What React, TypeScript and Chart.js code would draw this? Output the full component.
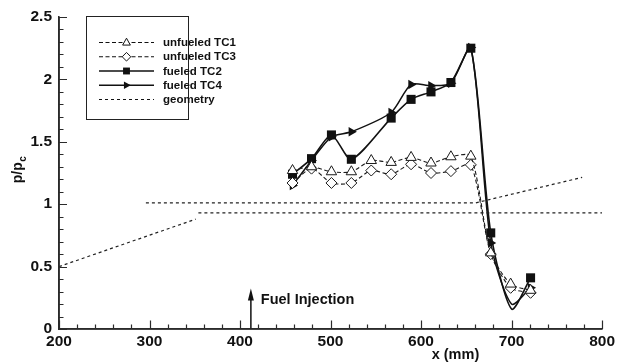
import React, { useEffect, useRef } from 'react';
import { Chart, registerables } from 'chart.js';

Chart.register(...registerables);

// Measuring stations along the combustor (mm)
const stationX = [458, 479, 501, 523, 545, 567, 589, 611, 633, 655, 677, 699, 721];
const unfueledTC1 = [1.27, 1.3, 1.26, 1.26, 1.35, 1.335, 1.375, 1.33, 1.38, 1.385, 0.61, 0.36, 0.31];
const unfueledTC3 = [1.17, 1.285, 1.17, 1.17, 1.27, 1.24, 1.32, 1.25, 1.265, 1.315, 0.6, 0.33, 0.29];

// Fueled runs: no tap at 545; the 700 entry is the trough of the curve (no marker)
const fueledX = [458, 479, 501, 523, 567, 589, 611, 633, 655, 677, 700, 721];
const fueledTC2 = [1.24, 1.365, 1.555, 1.36, 1.69, 1.84, 1.9, 1.975, 2.25, 0.77, 0.16, 0.41];
const fueledTC4 = [1.15, 1.35, 1.54, 1.58, 1.735, 1.96, 1.95, 1.97, 2.255, 0.69, 0.2, 0.33];
const fueledMarker = [1, 1, 1, 1, 1, 1, 1, 1, 1, 1, 0, 1];

// Duct geometry outline
const geomRampX = [200, 351];
const geomRampY = [0.5, 0.88];
const geomLowerX = [354, 800];
const geomLowerY = [0.93, 0.93];
const geomUpperX = [296, 660, 778];
const geomUpperY = [1.01, 1.01, 1.215];

const xTicks = [200, 300, 400, 500, 600, 700, 800];
const yTicks = [0, 0.5, 1, 1.5, 2, 2.5];
const xMinorStep = 20;
const yMinorStep = 0.1;

const injectionX = 412;
const injectionTop = 0.325;
const injectionLabel = 'Fuel Injection';
const injectionLabelX = 423;
const injectionLabelY = 0.23;

const FONT = '"Liberation Sans", Arial, sans-serif';
const INK = '#111';

const pts = (xs: number[], ys: number[]) => xs.map((x, i) => ({ x, y: ys[i] }));

type Marker = 'triangle' | 'diamond' | 'square' | 'arrow' | 'none';

function drawMarker(ctx: CanvasRenderingContext2D, kind: Marker, cx: number, cy: number, s: number) {
  ctx.beginPath();
  if (kind === 'triangle') {
    ctx.moveTo(cx, cy - s);
    ctx.lineTo(cx + s * 0.9, cy + s * 0.6);
    ctx.lineTo(cx - s * 0.9, cy + s * 0.6);
    ctx.closePath();
    ctx.fillStyle = '#fff';
    ctx.fill();
    ctx.stroke();
  } else if (kind === 'diamond') {
    ctx.moveTo(cx, cy - s);
    ctx.lineTo(cx + s, cy);
    ctx.lineTo(cx, cy + s);
    ctx.lineTo(cx - s, cy);
    ctx.closePath();
    ctx.fillStyle = '#fff';
    ctx.fill();
    ctx.stroke();
  } else if (kind === 'square') {
    ctx.fillStyle = INK;
    ctx.fillRect(cx - s * 0.8, cy - s * 0.8, s * 1.6, s * 1.6);
  } else if (kind === 'arrow') {
    ctx.moveTo(cx + s, cy);
    ctx.lineTo(cx - s * 0.6, cy - s * 0.9);
    ctx.lineTo(cx - s * 0.6, cy + s * 0.9);
    ctx.closePath();
    ctx.fillStyle = INK;
    ctx.fill();
  }
}

const legendItems: { label: string; dash: number[]; width: number; marker: Marker }[] = [
  { label: 'unfueled TC1', dash: [4, 2.5], width: 1.1, marker: 'triangle' },
  { label: 'unfueled TC3', dash: [4, 2.5], width: 1.1, marker: 'diamond' },
  { label: 'fueled TC2', dash: [], width: 1.6, marker: 'square' },
  { label: 'fueled TC4', dash: [], width: 1.6, marker: 'arrow' },
  { label: 'geometry', dash: [3, 3], width: 1.1, marker: 'none' },
];

const decorations = {
  id: 'decorations',
  afterDraw(chart: any) {
    const ctx: CanvasRenderingContext2D = chart.ctx;
    const a = chart.chartArea;
    const xs = chart.scales.x;
    const ys = chart.scales.y;
    ctx.save();
    ctx.setLineDash([]);

    // fuel injection arrow and label
    const ax = xs.getPixelForValue(injectionX);
    const aTop = ys.getPixelForValue(injectionTop);
    ctx.strokeStyle = INK;
    ctx.fillStyle = INK;
    ctx.lineWidth = 1.5;
    ctx.beginPath();
    ctx.moveTo(ax, a.bottom);
    ctx.lineTo(ax, aTop + 8);
    ctx.stroke();
    ctx.beginPath();
    ctx.moveTo(ax, aTop);
    ctx.lineTo(ax + 3, aTop + 12);
    ctx.lineTo(ax - 3, aTop + 12);
    ctx.closePath();
    ctx.fill();
    ctx.font = `bold 14.5px ${FONT}`;
    ctx.textAlign = 'left';
    ctx.textBaseline = 'middle';
    ctx.fillText(injectionLabel, xs.getPixelForValue(injectionLabelX), ys.getPixelForValue(injectionLabelY));

    // x axis title
    ctx.textAlign = 'center';
    ctx.fillText('x (mm)', xs.getPixelForValue(638), 355);

    // y axis title p/p_c
    ctx.save();
    ctx.translate(22, 170);
    ctx.rotate(-Math.PI / 2);
    ctx.font = `bold 14px ${FONT}`;
    const main = 'p/p';
    const wMain = ctx.measureText(main).width;
    ctx.font = `bold 10px ${FONT}`;
    const wSub = ctx.measureText('c').width;
    const start = -(wMain + wSub) / 2;
    ctx.textAlign = 'left';
    ctx.textBaseline = 'alphabetic';
    ctx.font = `bold 14px ${FONT}`;
    ctx.fillText(main, start, 0);
    ctx.font = `bold 10px ${FONT}`;
    ctx.fillText('c', start + wMain + 0.5, 3.5);
    ctx.restore();

    // legend box
    const bx = 86, by = 16, bw = 102, bh = 103;
    ctx.fillStyle = '#fff';
    ctx.fillRect(bx, by, bw, bh);
    ctx.strokeStyle = '#222';
    ctx.lineWidth = 1;
    ctx.strokeRect(bx + 0.5, by + 0.5, bw, bh);
    legendItems.forEach((it, i) => {
      const ly = 42.5 + i * 14.25;
      ctx.strokeStyle = INK;
      ctx.lineWidth = it.width;
      ctx.setLineDash(it.dash);
      ctx.beginPath();
      ctx.moveTo(99, ly);
      ctx.lineTo(154, ly);
      ctx.stroke();
      ctx.setLineDash([]);
      ctx.lineWidth = 1;
      drawMarker(ctx, it.marker, 126.5, ly, 4.3);
      ctx.fillStyle = INK;
      ctx.font = `bold 11.5px ${FONT}`;
      ctx.textAlign = 'left';
      ctx.textBaseline = 'middle';
      ctx.fillText(it.label, 163, ly + 0.5);
    });

    // left and bottom axis lines
    ctx.setLineDash([]);
    ctx.strokeStyle = '#2b2b2b';
    ctx.lineWidth = 1.6;
    ctx.beginPath();
    ctx.moveTo(a.left, a.top);
    ctx.lineTo(a.left, a.bottom);
    ctx.lineTo(a.right, a.bottom);
    ctx.stroke();

    // inward major and minor ticks
    ctx.lineWidth = 1.2;
    ctx.beginPath();
    const yMin = yTicks[0];
    const yMax = yTicks[yTicks.length - 1];
    const nY = Math.round((yMax - yMin) / yMinorStep);
    for (let i = 0; i <= nY; i++) {
      const v = yMin + i * yMinorStep;
      const major = yTicks.some((t) => Math.abs(t - v) < 1e-6);
      const py = Math.round(ys.getPixelForValue(v)) + 0.5;
      ctx.moveTo(a.left, py);
      ctx.lineTo(a.left + (major ? 8 : 4.5), py);
    }
    const xMin = xTicks[0];
    const xMax = xTicks[xTicks.length - 1];
    const nX = Math.round((xMax - xMin) / xMinorStep);
    for (let i = 0; i <= nX; i++) {
      const v = xMin + i * xMinorStep;
      const major = xTicks.indexOf(v) >= 0;
      const px = Math.round(xs.getPixelForValue(v)) + 0.5;
      ctx.moveTo(px, a.bottom);
      ctx.lineTo(px, a.bottom - (major ? 8.5 : 4.5));
    }
    ctx.stroke();

    ctx.restore();
  },
};

export default function App() {
  const ref = useRef<HTMLCanvasElement | null>(null);

  useEffect(() => {
    if (!ref.current) return;
    const geomStyle = {
      borderColor: '#222',
      borderWidth: 1.2,
      borderDash: [3, 3],
      pointRadius: 0,
      tension: 0,
      fill: false,
    };
    const chart = new Chart(ref.current, {
      type: 'line',
      data: {
        datasets: [
          { label: 'geometry', data: pts(geomRampX, geomRampY), ...geomStyle },
          { label: 'geometry lower', data: pts(geomLowerX, geomLowerY), ...geomStyle },
          { label: 'geometry upper', data: pts(geomUpperX, geomUpperY), ...geomStyle },
          {
            label: 'unfueled TC1',
            data: pts(stationX, unfueledTC1),
            borderColor: '#1a1a1a',
            borderWidth: 1.1,
            borderDash: [4, 2.5],
            tension: 0.25,
            pointStyle: 'triangle',
            pointRadius: 6,
            pointBorderWidth: 1,
            pointBorderColor: '#1a1a1a',
            pointBackgroundColor: '#fff',
          },
          {
            label: 'unfueled TC3',
            data: pts(stationX, unfueledTC3),
            borderColor: '#1a1a1a',
            borderWidth: 1.1,
            borderDash: [4, 2.5],
            tension: 0.25,
            pointStyle: 'rectRot',
            pointRadius: 5.5,
            pointBorderWidth: 1,
            pointBorderColor: '#1a1a1a',
            pointBackgroundColor: '#fff',
          },
          {
            label: 'fueled TC4',
            data: pts(fueledX, fueledTC4),
            borderColor: INK,
            borderWidth: 1.5,
            tension: 0.25,
            pointStyle: 'triangle',
            rotation: 90,
            pointRadius: fueledMarker.map((m) => (m ? 5.5 : 0)),
            pointBorderWidth: 0,
            pointBackgroundColor: INK,
          },
          {
            label: 'fueled TC2',
            data: pts(fueledX, fueledTC2),
            borderColor: INK,
            borderWidth: 1.6,
            tension: 0.25,
            pointStyle: 'rect',
            pointRadius: fueledMarker.map((m) => (m ? 6.4 : 0)),
            pointBorderWidth: 0,
            pointBackgroundColor: INK,
          },
        ],
      },
      options: {
        responsive: false,
        animation: false,
        devicePixelRatio: 1,
        layout: { padding: { top: 17, right: 14, left: 0, bottom: 0 } },
        plugins: { legend: { display: false }, tooltip: { enabled: false } },
        scales: {
          x: {
            type: 'linear',
            min: xTicks[0],
            max: xTicks[xTicks.length - 1],
            grid: { display: false, drawTicks: false },
            border: { display: true, color: '#2b2b2b', width: 1.6 },
            afterBuildTicks: (s: any) => {
              s.ticks = xTicks.map((v) => ({ value: v }));
            },
            afterFit: (s: any) => {
              s.height = 34;
            },
            ticks: {
              padding: 3,
              color: INK,
              font: { family: FONT, size: 15.5, weight: 'bold' },
              callback: (v: any) => String(v),
              maxRotation: 0,
            },
          },
          y: {
            type: 'linear',
            min: yTicks[0],
            max: yTicks[yTicks.length - 1],
            grid: { display: false, drawTicks: false },
            border: { display: true, color: '#2b2b2b', width: 1.6 },
            afterBuildTicks: (s: any) => {
              s.ticks = yTicks.map((v) => ({ value: v }));
            },
            afterFit: (s: any) => {
              s.width = 59;
            },
            ticks: {
              padding: 7,
              color: INK,
              font: { family: FONT, size: 15.5, weight: 'bold' },
              callback: (v: any) => String(v),
            },
          },
        },
      },
      plugins: [decorations],
    } as any);
    return () => chart.destroy();
  }, []);

  return (
    <div style={{ position: 'fixed', left: 0, top: 0, width: 618, height: 363, background: '#fff' }}>
      <canvas ref={ref} width={618} height={363} style={{ display: 'block' }} />
    </div>
  );
}
